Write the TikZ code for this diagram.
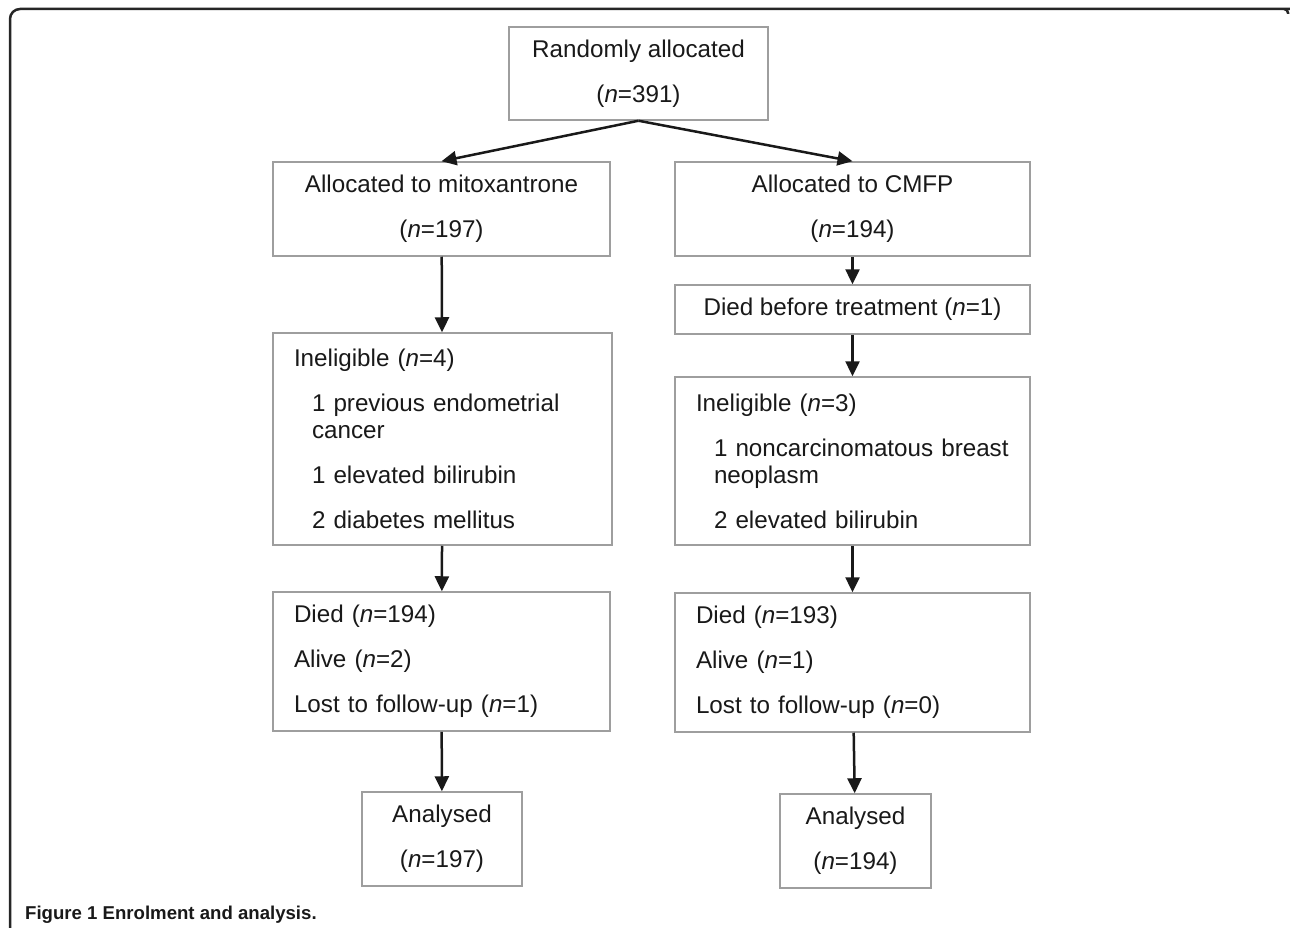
\documentclass[tikz,border=0pt]{standalone}
\usepackage{fontspec}
\setmainfont{Liberation Sans}
\usetikzlibrary{arrows.meta}
\tikzset{
  box/.style   = {draw=black!38, line width=1.5pt, fill=white, text=black!90,
                  align=center, inner sep=0pt,
                  font=\fontsize{24.2}{27}\selectfont},
  lbox/.style  = {box, align=left, inner xsep=21pt},
  ar/.style    = {-{Triangle[length=15pt, width=14pt]}, line width=2.5pt, black!90},
  frame/.style = {line width=2.5pt, black!85},
  figcap/.style= {anchor=base west, inner sep=0pt, text=black!90,
                  font=\bfseries\fontsize{18.6}{20}\selectfont},
}
\newcommand{\nn}[1]{(\textit{n}=#1)}
\newcommand{\ind}{\hspace*{18pt}}

\begin{document}
\begin{tikzpicture}[x=1pt, y=-1pt]
  \useasboundingbox (0,0) rectangle (1290,928);
  % outer frame
  \draw[frame, rounded corners=10pt] (10,928) -- (10,9) -- (1280,9)
       [rounded corners=4pt] -- (1288,9) -- (1288,14);

  \node[box, minimum width=259pt, minimum height=93pt] (rand) at (638.5,73.5)
       {Randomly allocated\\[18pt]\nn{391}};

  % mitoxantrone arm
  \node[box, minimum width=337pt, minimum height=94pt] (allocM) at (441.5,209)
       {Allocated to mitoxantrone\\[18pt]\nn{197}};
  \node[lbox, text width=297pt, minimum height=212pt] (inelM) at (442.5,439)
       {Ineligible \nn{4}\\[18pt]
        \ind 1 previous endometrial\\
        \ind cancer\\[18pt]
        \ind 1 elevated bilirubin\\[18pt]
        \ind 2 diabetes mellitus};
  \node[lbox, text width=295pt, minimum height=139pt] (outM) at (441.5,661.5)
       {Died \nn{194}\\[18pt]
        Alive \nn{2}\\[18pt]
        Lost to follow-up \nn{1}};
  \node[box, minimum width=160pt, minimum height=94pt] (anaM) at (442,839)
       {Analysed\\[18pt]\nn{197}};

  % CMFP arm
  \node[box, minimum width=355pt, minimum height=94pt] (allocC) at (852.5,209)
       {Allocated to CMFP\\[18pt]\nn{194}};
  \node[box, minimum width=355pt, minimum height=49pt] (diedC) at (852.5,309.5)
       {Died before treatment \nn{1}};
  \node[lbox, text width=313pt, minimum height=168pt] (inelC) at (852.5,461)
       {Ineligible \nn{3}\\[18pt]
        \ind 1 noncarcinomatous breast\\
        \ind neoplasm\\[18pt]
        \ind 2 elevated bilirubin};
  \node[lbox, text width=313pt, minimum height=139pt] (outC) at (852.5,662.5)
       {Died \nn{193}\\[18pt]
        Alive \nn{1}\\[18pt]
        Lost to follow-up \nn{0}};
  \node[box, minimum width=151pt, minimum height=94pt] (anaC) at (855.5,841)
       {Analysed\\[18pt]\nn{194}};

  \draw[ar] (rand.south) -- (allocM.north);
  \draw[ar] (rand.south) -- (allocC.north);
  \draw[ar] (allocM) -- (inelM);
  \draw[ar] (inelM) -- (outM);
  \draw[ar] (outM) -- (anaM);
  \draw[ar] (allocC) -- (diedC);
  \draw[ar] (diedC) -- (inelC);
  \draw[ar] (inelC) -- (outC);
  \draw[ar] (outC) -- (anaC);

  \node[figcap] (caption) at (25,919) {Figure 1 Enrolment and analysis.};
\end{tikzpicture}
\end{document}
